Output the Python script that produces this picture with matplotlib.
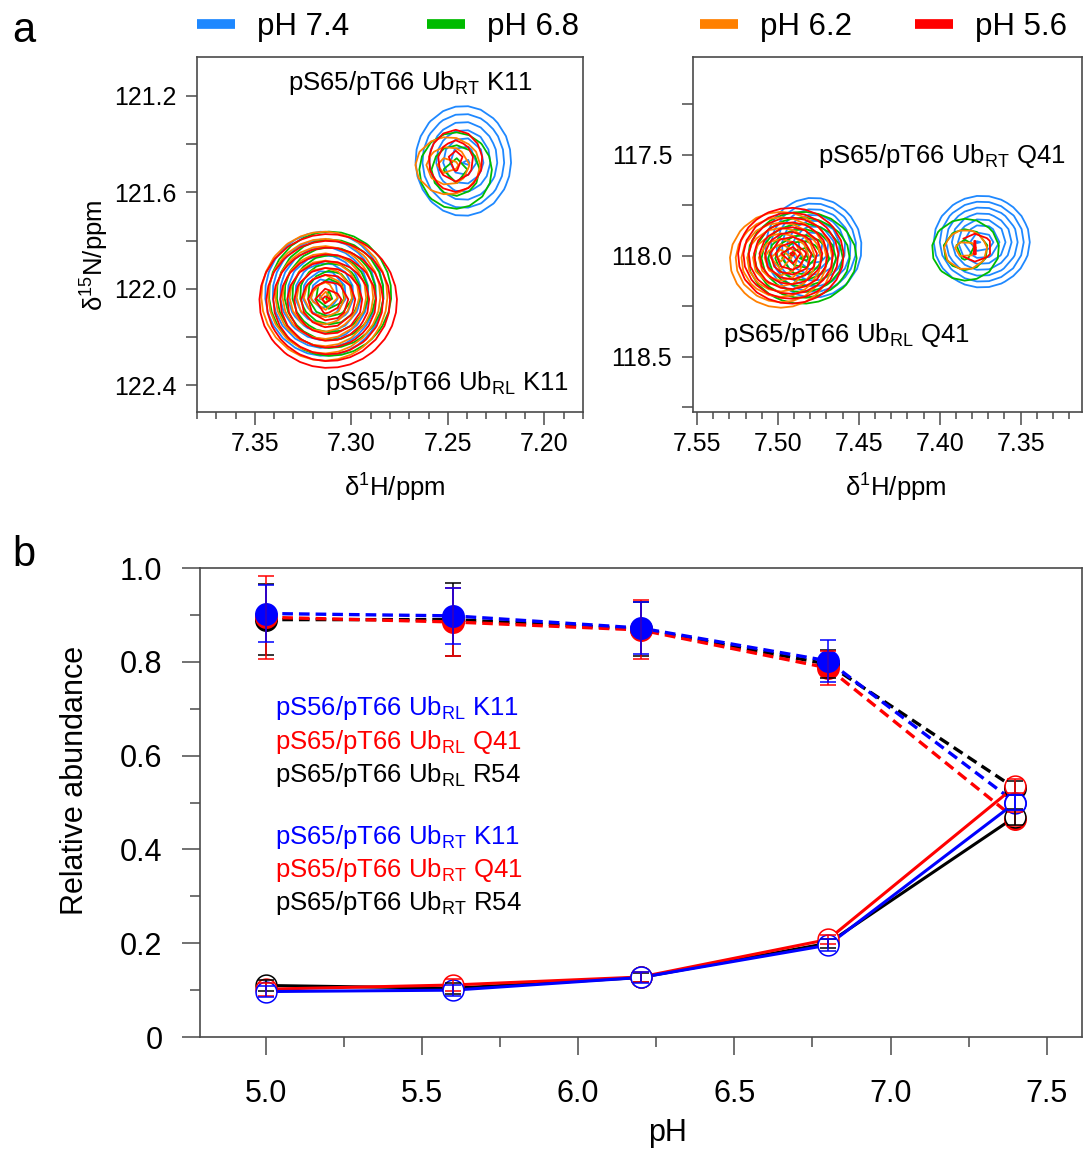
import numpy as np
import matplotlib.pyplot as plt
from matplotlib.ticker import MultipleLocator, FuncFormatter
from matplotlib.lines import Line2D

plt.rcParams['font.family'] = ['Liberation Sans', 'DejaVu Sans']
plt.rcParams['mathtext.fontset'] = 'custom'
plt.rcParams['mathtext.rm'] = 'Liberation Sans'
plt.rcParams['mathtext.it'] = 'Liberation Sans:italic'
plt.rcParams['mathtext.bf'] = 'Liberation Sans:bold'

# ---- panel a: HSQC peaks, one row per pH (7.4, 6.8, 6.2, 5.6)
# (1H centre, 15N centre, 1H half width of outer contour, 15N half width, number of contours)
ph_labels = ['pH 7.4', 'pH 6.8', 'pH 6.2', 'pH 5.6']
ph_colors = ['#1E88FF', '#00BB00', '#FF8000', '#FF0000']

k11_rl = [(7.314, 122.02, 0.031, 0.26, 8),
          (7.311, 122.02, 0.032, 0.26, 8),
          (7.314, 122.03, 0.033, 0.27, 9),
          (7.312, 122.05, 0.036, 0.28, 10)]
k11_rt = [(7.242, 121.47, 0.025, 0.23, 7),
          (7.246, 121.51, 0.019, 0.16, 3),
          (7.250, 121.49, 0.017, 0.12, 3),
          (7.246, 121.47, 0.014, 0.13, 3)]
q41_rl = [(7.478, 117.96, 0.030, 0.25, 9),
          (7.485, 118.01, 0.034, 0.23, 8),
          (7.498, 118.02, 0.032, 0.24, 9),
          (7.492, 118.00, 0.033, 0.24, 10)]
q41_rt = [(7.374, 117.93, 0.030, 0.23, 8),
          (7.384, 117.97, 0.021, 0.155, 3),
          (7.384, 117.97, 0.0135, 0.10, 2),
          (7.378, 117.96, 0.0105, 0.07, 2)]

# ---- panel b: relative abundance vs pH
ph = [5.0, 5.6, 6.2, 6.8, 7.4]
rl_k11 = [0.903, 0.898, 0.872, 0.802, 0.500]
rl_k11_err = [0.060, 0.060, 0.055, 0.044, 0.015]
rl_q41 = [0.895, 0.885, 0.868, 0.787, 0.465]
rl_q41_err = [0.088, 0.072, 0.063, 0.037, 0.015]
rl_r54 = [0.890, 0.890, 0.870, 0.795, 0.530]
rl_r54_err = [0.075, 0.077, 0.058, 0.030, 0.015]
rt_k11 = [0.097, 0.100, 0.127, 0.196, 0.500]
rt_k11_err = [0.012, 0.012, 0.012, 0.012, 0.015]
rt_q41 = [0.102, 0.111, 0.128, 0.208, 0.535]
rt_q41_err = [0.014, 0.012, 0.010, 0.010, 0.015]
rt_r54 = [0.110, 0.104, 0.127, 0.200, 0.470]
rt_r54_err = [0.012, 0.012, 0.010, 0.010, 0.017]

rl_labels = ['pS56/pT66 Ub$_\\mathregular{RL}$ K11',
             'pS65/pT66 Ub$_\\mathregular{RL}$ Q41',
             'pS65/pT66 Ub$_\\mathregular{RL}$ R54']
rt_labels = ['pS65/pT66 Ub$_\\mathregular{RT}$ K11',
             'pS65/pT66 Ub$_\\mathregular{RT}$ Q41',
             'pS65/pT66 Ub$_\\mathregular{RT}$ R54']
line_colors = ['#0000FF', '#FF0000', 'black']

spine_col = '#4a4a4a'

fig = plt.figure(figsize=(10.84, 11.51), dpi=100)
ax1 = fig.add_axes([0.1817, 0.642, 0.3561, 0.3084])
ax2 = fig.add_axes([0.6393, 0.642, 0.3589, 0.3084])
ax3 = fig.add_axes([0.1845, 0.099, 0.8137, 0.4075])


def draw_peak(ax, peak, step_h, step_n):
    for (h0, n0, wh, wn, nl), col in zip(peak, ph_colors):
        hh = np.arange(h0 - 1.4 * wh, h0 + 1.4 * wh, step_h)
        nn = np.arange(n0 - 1.4 * wn, n0 + 1.4 * wn, step_n)
        H, N = np.meshgrid(hh, nn)
        r = np.sqrt(((H - h0) / wh) ** 2 + ((N - n0) / wn) ** 2)
        ax.contour(H, N, 1 - r, levels=np.arange(nl) / nl + 0.01,
                   colors=col, linewidths=1.3)


draw_peak(ax1, k11_rl, 0.0065, 0.055)
draw_peak(ax1, k11_rt, 0.0065, 0.055)
draw_peak(ax2, q41_rl, 0.0075, 0.065)
draw_peak(ax2, q41_rt, 0.0075, 0.065)

ax1.set_xlim(7.38, 7.18)
ax1.set_ylim(122.51, 121.04)
ax2.set_xlim(7.5525, 7.312)
ax2.set_ylim(118.775, 117.015)

ax1.xaxis.set_major_locator(MultipleLocator(0.05))
ax1.xaxis.set_minor_locator(MultipleLocator(0.01))
ax1.yaxis.set_major_locator(MultipleLocator(0.4))
ax1.yaxis.set_minor_locator(MultipleLocator(0.2))
ax2.xaxis.set_major_locator(MultipleLocator(0.05))
ax2.xaxis.set_minor_locator(MultipleLocator(0.01))
ax2.yaxis.set_major_locator(MultipleLocator(0.5))
ax2.yaxis.set_minor_locator(MultipleLocator(0.25))
for ax in (ax1, ax2):
    ax.xaxis.set_major_formatter(FuncFormatter(lambda v, p: '%.2f' % v))
    ax.yaxis.set_major_formatter(FuncFormatter(lambda v, p: '%.1f' % v))
    ax.tick_params(axis='x', which='major', direction='out', length=9, width=1.1,
                   color=spine_col, labelsize=18, pad=5)
    ax.tick_params(axis='x', which='minor', direction='out', length=5, width=1.1, color=spine_col)
    ax.tick_params(axis='y', which='both', direction='out', length=8, width=1.1,
                   color=spine_col, labelsize=18, pad=7)
    for s in ax.spines.values():
        s.set_color(spine_col)
        s.set_linewidth(1.2)

ax1.text(0.236, 0.907, 'pS65/pT66 Ub$_\\mathregular{RT}$ K11', transform=ax1.transAxes,
         fontsize=18.5, ha='left', va='baseline')
ax1.text(0.332, 0.062, 'pS65/pT66 Ub$_\\mathregular{RL}$ K11', transform=ax1.transAxes,
         fontsize=18.5, ha='left', va='baseline')
ax2.text(0.321, 0.702, 'pS65/pT66 Ub$_\\mathregular{RT}$ Q41', transform=ax2.transAxes,
         fontsize=18.5, ha='left', va='baseline')
ax2.text(0.077, 0.197, 'pS65/pT66 Ub$_\\mathregular{RL}$ Q41', transform=ax2.transAxes,
         fontsize=18.5, ha='left', va='baseline')

handles = [Line2D([], [], color=c, lw=7, solid_capstyle='butt') for c in ph_colors]
leg1 = ax1.legend(handles[:2], ph_labels[:2], loc='center left', bbox_to_anchor=(0.0, 1.085),
                  ncol=2, frameon=False, fontsize=22.5, handlelength=1.22, handletextpad=0.7,
                  columnspacing=2.5, borderaxespad=0, borderpad=0)
leg2 = ax2.legend(handles[2:], ph_labels[2:], loc='center left', bbox_to_anchor=(0.018, 1.085),
                  ncol=2, frameon=False, fontsize=22.5, handlelength=1.22, handletextpad=0.7,
                  columnspacing=2.0, borderaxespad=0, borderpad=0)

fig.text(95 / 1084, 1 - 255 / 1151, '\u03b4$^{\\mathregular{15}}$N/ppm', rotation=90,
         fontsize=18.5, ha='center', va='center')
fig.text(395 / 1084, 1 - 488 / 1151, '\u03b4$^{\\mathregular{1}}$H/ppm',
         fontsize=18.5, ha='center', va='center')
fig.text(896 / 1084, 1 - 488 / 1151, '\u03b4$^{\\mathregular{1}}$H/ppm',
         fontsize=18.5, ha='center', va='center')

# ---- panel b
rl_sets = [(rl_r54, rl_r54_err, 'black'), (rl_q41, rl_q41_err, '#FF0000'), (rl_k11, rl_k11_err, '#0000FF')]
rt_sets = [(rt_r54, rt_r54_err, 'black'), (rt_q41, rt_q41_err, '#FF0000'), (rt_k11, rt_k11_err, '#0000FF')]

for vals, err, col in rl_sets:
    ax3.plot(ph, vals, '--', color=col, lw=2.4, dashes=(3.2, 1.8), zorder=2)
for vals, err, col in rt_sets:
    ax3.plot(ph, vals, '-', color=col, lw=2.2, zorder=2)
for vals, err, col in rl_sets:
    ax3.plot(ph, vals, 'o', color=col, ms=15.5, zorder=3)
    ax3.errorbar(ph, vals, yerr=err, fmt='none', ecolor=col, elinewidth=1.1,
                 capsize=5.5, capthick=1.1, zorder=5)
for vals, err, col in rt_sets:
    ax3.plot(ph, vals, 'o', color=col, mfc='white', mew=1.1, ms=15, zorder=4)
    ax3.errorbar(ph, vals, yerr=err, fmt='none', ecolor=col, elinewidth=1.1,
                 capsize=5.5, capthick=1.1, zorder=5)

ax3.set_xlim(4.79, 7.613)
ax3.set_ylim(0, 1.0)
ax3.xaxis.set_major_locator(MultipleLocator(0.5))
ax3.xaxis.set_minor_locator(MultipleLocator(0.25))
ax3.yaxis.set_major_locator(MultipleLocator(0.2))
ax3.yaxis.set_minor_locator(MultipleLocator(0.1))
ax3.xaxis.set_major_formatter(FuncFormatter(lambda v, p: '%.1f' % v))
ax3.yaxis.set_major_formatter(FuncFormatter(lambda v, p: '0' if abs(v) < 1e-9 else '%.1f' % v))
ax3.tick_params(axis='x', which='major', direction='out', length=13, width=1.1,
                color=spine_col, labelsize=22, pad=17)
ax3.tick_params(axis='y', which='major', direction='out', length=13, width=1.1,
                color=spine_col, labelsize=22, pad=14)
ax3.tick_params(which='minor', direction='out', length=7, width=1.1, color=spine_col)
for s in ax3.spines.values():
    s.set_color(spine_col)
    s.set_linewidth(1.2)

rl_y = [0.687, 0.614, 0.544]
rt_y = [0.412, 0.341, 0.271]
for lab, yy, col in zip(rl_labels, rl_y, line_colors):
    ax3.text(0.085, yy, lab, color=col, fontsize=18.5, transform=ax3.transAxes, va='baseline')
for lab, yy, col in zip(rt_labels, rt_y, line_colors):
    ax3.text(0.085, yy, lab, color=col, fontsize=18.5, transform=ax3.transAxes, va='baseline')

fig.text(75 / 1084, 1 - 780 / 1151, 'Relative abundance', rotation=90,
         fontsize=22, ha='center', va='center')
fig.text(668 / 1084, 1 - 1133 / 1151, 'pH', fontsize=22, ha='center', va='center')

fig.text(0.011, 1 - 42 / 1151, 'a', fontsize=30, va='baseline')
fig.text(0.011, 1 - 566 / 1151, 'b', fontsize=30, va='baseline')

fig.savefig('out.png', dpi=100)
